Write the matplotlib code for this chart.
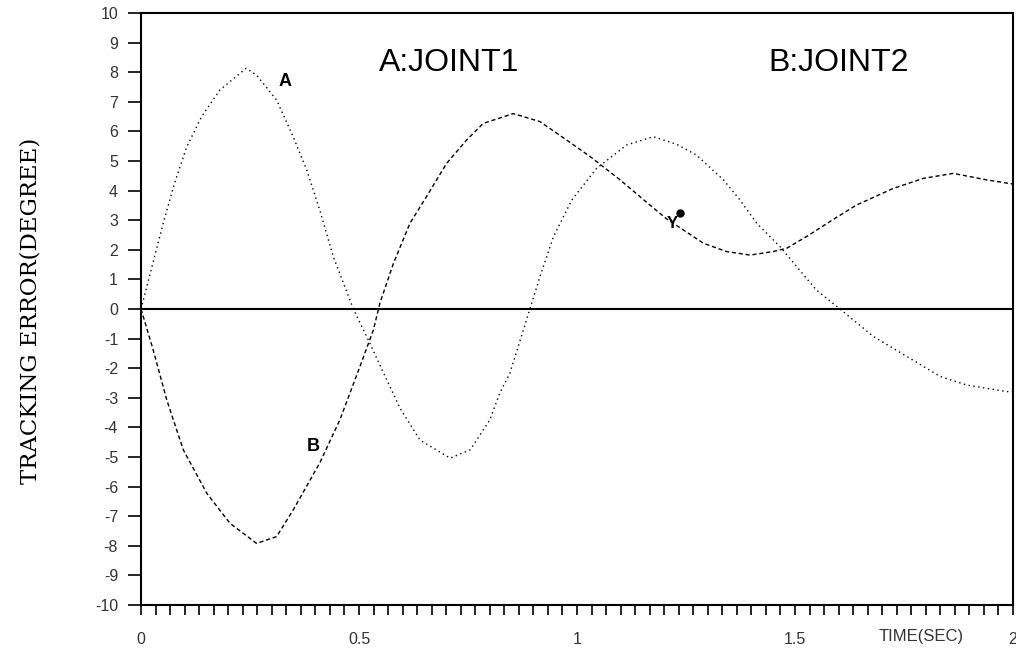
import matplotlib
matplotlib.use("Agg")
import matplotlib.pyplot as plt
import numpy as np

# joint 1 tracking error (curve A)
time_a = [0.0, 0.051, 0.078, 0.105, 0.139, 0.181, 0.241, 0.265, 0.311, 0.349,
          0.38, 0.41, 0.441, 0.487, 0.525, 0.548, 0.594, 0.64, 0.709, 0.755,
          0.80, 0.823, 0.846, 0.892, 0.915, 0.946, 0.988, 1.045, 1.114, 1.175,
          1.229, 1.274, 1.336, 1.374, 1.412, 1.466, 1.504, 1.549, 1.603, 1.68,
          1.756, 1.833, 1.894, 1.985, 2.0]
err_a = [0.0, 2.9, 4.3, 5.48, 6.5, 7.4, 8.13, 7.9, 7.06, 5.82,
         4.7, 3.34, 1.77, 0.0, -1.16, -1.9, -3.35, -4.43, -5.04, -4.76,
         -3.75, -2.84, -2.17, 0.0, 1.09, 2.44, 3.68, 4.75, 5.54, 5.82,
         5.56, 5.2, 4.36, 3.68, 2.9, 2.1, 1.43, 0.64, 0.0, -0.93,
         -1.6, -2.28, -2.57, -2.79, -2.8]

# joint 2 tracking error (curve B)
time_b = [0.0, 0.028, 0.059, 0.097, 0.151, 0.204, 0.265, 0.311, 0.349, 0.41,
          0.456, 0.502, 0.533, 0.548, 0.579, 0.617, 0.655, 0.701, 0.747, 0.785,
          0.854, 0.915, 0.976, 1.03, 1.099, 1.16, 1.205, 1.29, 1.343, 1.397,
          1.45, 1.481, 1.527, 1.58, 1.641, 1.725, 1.794, 1.863, 1.94, 2.0]
err_b = [0.0, -1.39, -3.07, -4.76, -6.23, -7.24, -7.92, -7.69, -6.79, -5.2,
         -3.75, -1.95, -0.71, 0.2, 1.54, 2.9, 3.8, 4.92, 5.71, 6.27,
         6.6, 6.33, 5.71, 5.15, 4.36, 3.6, 3.05, 2.22, 1.94, 1.82,
         1.94, 2.05, 2.45, 2.95, 3.51, 4.07, 4.41, 4.58, 4.36, 4.22]

x_labels = {0: "0", 15: "0.5", 30: "1", 45: "1.5", 60: "2"}
y_ticks = list(range(-10, 11))

fig = plt.figure(figsize=(10.16, 6.48), dpi=100)
ax = fig.add_axes([0.1388, 0.0664, 0.8582, 0.9136])

ax.plot(time_a, err_a, color="black", lw=1.0, linestyle=(0, (1, 2.5)))
ax.plot(time_b, err_b, color="black", lw=1.0, linestyle=(0, (3, 2)))
ax.axhline(0, color="black", lw=1.5)

ax.set_xlim(0, 2)
ax.set_ylim(-10, 10)

# 60 small divisions along the time axis, numbered every half second
xt = np.arange(61) / 30.0
ax.set_xticks(xt)
ax.set_xticklabels([x_labels.get(i, "") for i in range(61)])
ax.set_yticks(y_ticks)
ax.set_yticklabels([str(v) for v in y_ticks])

ax.tick_params(axis="x", direction="out", length=7.5, width=1.2, pad=12,
               labelsize=11.5, labelcolor="#333333")
ax.tick_params(axis="y", direction="out", length=9.5, width=1.2, pad=7,
               labelsize=11.5, labelcolor="#333333")
for lab in ax.get_xticklabels() + ax.get_yticklabels():
    lab.set_family("Liberation Sans")

for sp in ax.spines.values():
    sp.set_linewidth(1.5)

ax.text(0.706, 8.3, "A:JOINT1", ha="center", va="center", fontsize=23,
        family="Liberation Sans")
ax.text(1.6, 8.3, "B:JOINT2", ha="center", va="center", fontsize=23,
        family="Liberation Sans")
ax.text(0.33, 7.67, "A", ha="center", va="center", fontsize=13,
        fontweight="bold", family="Liberation Sans")
ax.text(0.395, -4.65, "B", ha="center", va="center", fontsize=13,
        fontweight="bold", family="Liberation Sans")

# pen marks left on the plot sheet
ax.text(1.218, 2.9, "Y", ha="center", va="center", fontsize=12,
        fontweight="bold", family="Liberation Sans")
ax.plot([1.236], [3.24], "o", color="black", ms=5)

ax.text(1.79, -11.05, "TIME(SEC)", ha="center", va="center", fontsize=12,
        color="#333333", family="Liberation Sans", clip_on=False)

fig.text(0.030, 0.52, "TRACKING ERROR(DEGREE)", rotation=90, ha="center",
         va="center", fontsize=16.5, family="DejaVu Serif")

fig.savefig("out.png", dpi=100)
